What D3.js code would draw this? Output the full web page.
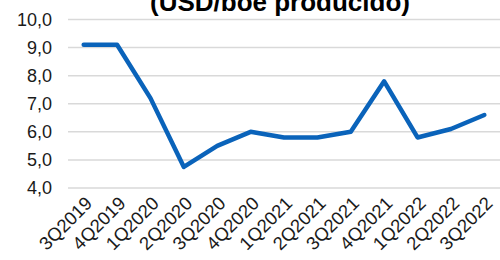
<!DOCTYPE html>
<html><head><meta charset="utf-8">
<script src="https://cdn.jsdelivr.net/npm/d3@7"></script>
<style>html,body{margin:0;padding:0;background:#fff;overflow:hidden}</style>
</head><body>
<svg id="c" width="500" height="260"></svg>
<script>
const categories = ["3Q2019","4Q2019","1Q2020","2Q2020","3Q2020","4Q2020","1Q2021","2Q2021","3Q2021","4Q2021","1Q2022","2Q2022","3Q2022"];
const values = [9.1, 9.1, 7.2, 4.75, 5.5, 6.0, 5.8, 5.8, 6.0, 7.8, 5.8, 6.1, 6.6];
const yTicks = [4, 5, 6, 7, 8, 9, 10];
const title = "(USD/boe producido)";

const svg = d3.select("#c");
const x = d3.scalePoint().domain(categories).range([67, 501]).padding(0.5);
const y = d3.scaleLinear().domain([4, 10]).range([188, 19.5]);
const fmt = v => d3.format(".1f")(v).replace(".", ",");

svg.append("g").selectAll("line").data(yTicks).join("line")
  .attr("x1", 68).attr("x2", 500)
  .attr("y1", d => y(d)).attr("y2", d => y(d))
  .attr("stroke", "#d9d9d9").attr("stroke-width", 1.5);

svg.append("g").selectAll("text").data(yTicks).join("text")
  .attr("x", 52).attr("y", d => y(d)).attr("dy", "0.35em")
  .attr("text-anchor", "end")
  .attr("font-family", "Liberation Sans, Arial, sans-serif")
  .attr("font-size", 18).attr("fill", "#1a1a1a")
  .text(fmt);

svg.append("g").selectAll("text").data(categories).join("text")
  .attr("transform", d => `translate(${x(d) + 5},${200}) rotate(-45)`)
  .attr("text-anchor", "end").attr("dy", "0.35em")
  .attr("font-family", "Liberation Sans, Arial, sans-serif")
  .attr("font-size", 18.5).attr("fill", "#1a1a1a")
  .text(d => d);

const line = d3.line().x((d, i) => x(categories[i])).y(d => y(d));
svg.append("path").datum(values)
  .attr("d", line).attr("fill", "none")
  .attr("stroke", "#0a63ba").attr("stroke-width", 4.5)
  .attr("stroke-linejoin", "round").attr("stroke-linecap", "round");

svg.append("text").attr("x", 280).attr("y", 11)
  .attr("text-anchor", "middle")
  .attr("font-family", "Liberation Sans, Arial, sans-serif")
  .attr("font-weight", "bold").attr("font-size", 26).attr("fill", "#000")
  .text(title);
</script>
</body></html>
